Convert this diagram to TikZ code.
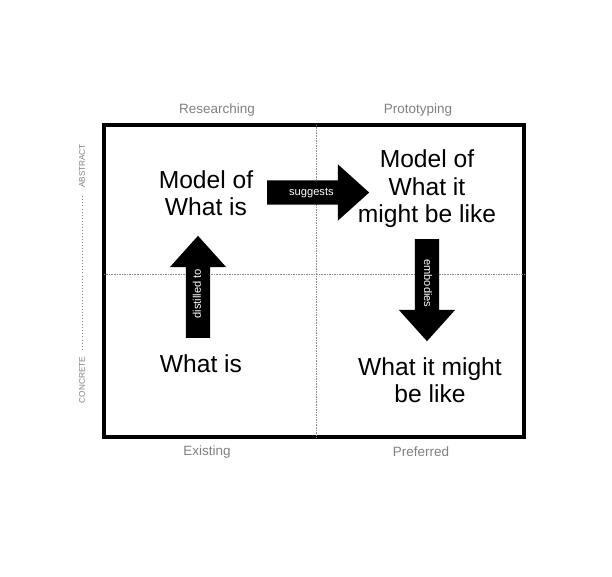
\documentclass[tikz,border=0pt]{standalone}
\usepackage{fontspec}
\setmainfont{Liberation Sans}
\usetikzlibrary{shapes.arrows,positioning}
\colorlet{labelGray}{black!50}
\colorlet{lineGray}{black!45}

\begin{document}
\begin{tikzpicture}[x=0.03cm, y=-0.03cm, every node/.style={align=center},
    bigtext/.style={font=\fontsize{21}{23.5}\selectfont},
    axislabel/.style={font=\fontsize{11.5}{13}\selectfont, text=labelGray},
    sidelabel/.style={font=\fontsize{7}{8}\selectfont, text=labelGray, rotate=90},
    bigarrow/.style={single arrow, fill=black, text=white, font=\fontsize{9.5}{10}\selectfont,
        text height=7pt, text depth=2pt, inner ysep=5.7pt, inner xsep=4pt,
        single arrow head extend=13.6pt, single arrow tip angle=84,
        minimum height=87pt, anchor=tail}]
        \useasboundingbox (0,0) rectangle (612,576);

        % quadrant frame
        \node[draw, line width=2.6pt, inner sep=0pt, minimum width=12.6cm, minimum height=9.36cm] (frame) at (314,281) {};
        \draw[lineGray, densely dotted] (316,125) -- (316,437);
        \draw[lineGray, densely dotted] (104,274) -- (524,274);

        % axis labels
        \node[axislabel] (research) at (217,110) {Researching};
        \node[axislabel] (proto) at (418,110) {Prototyping};
        \node[axislabel] (existing) at (207,452) {Existing};
        \node[axislabel] (preferred) at (421,452) {Preferred};
        \node[sidelabel] (abstract) at (82,166) {ABSTRACT};
        \node[sidelabel] (concrete) at (82,380) {CONCRETE};
        \draw[labelGray, dotted, line width=0.6pt, shorten <=3pt, shorten >=3pt] (concrete.east) -- (abstract.west);

        % quadrant texts
        \node[bigtext] (modelis) at (206,193) {Model of\\What is};
        \node[bigtext] (whatis) at (201,364) {What is};
        \node[bigtext] (modelmight) at (427,189) {Model of\\What it\\might be like};
        \node[bigtext] (whatmight) at (430,380) {What it might\\be like};

        % arrows
        \node[bigarrow, rotate=90] (distilled) at (198,338) {distilled to};
        \node[bigarrow] (suggests) at (267,192.5) {suggests};
        \node[bigarrow, rotate=-90] (embodies) at (427,239) {embodies};
    \end{tikzpicture}
\end{document}
